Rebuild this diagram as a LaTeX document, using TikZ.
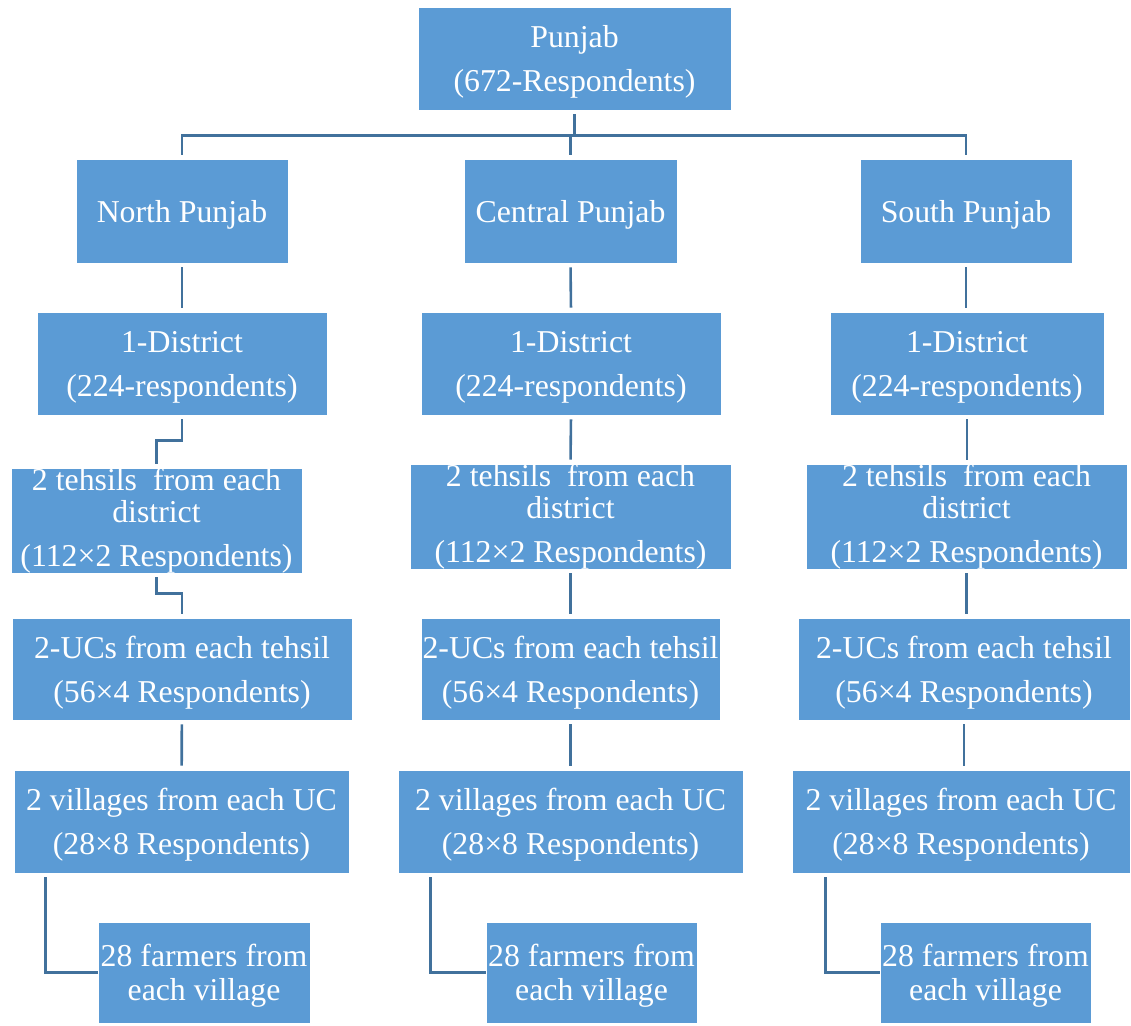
\documentclass[tikz,border=0pt]{standalone}
\usepackage{fontspec}
\setmainfont{Liberation Serif}
\usetikzlibrary{calc}

\definecolor{boxblue}{HTML}{5B9BD5}
\definecolor{linkblue}{HTML}{41719C}

\newcommand{\topstrut}{\rule{0pt}{29pt}}

\tikzset{
    box/.style={fill=boxblue, draw=white, line width=0.6pt, text=white,
        inner sep=0pt, align=center, font=\fontsize{31.8}{44}\selectfont},
    link/.style={draw=linkblue, line width=2.6pt, shorten <=4pt, shorten >=4pt}
}

\begin{document}
\begin{tikzpicture}[x=1pt, y=-1pt]

        \useasboundingbox (0,0) rectangle (1131,1025);

        % Top
        \node[box, minimum width=313pt, minimum height=103pt] (punjab) at (574.5,58.5) {\topstrut Punjab\\(672-Respondents)};

        % Regions
        \node[box, minimum width=212pt, minimum height=104pt] (north) at (182,211) {\topstrut North Punjab};
        \node[box, minimum width=213pt, minimum height=104pt] (central) at (570.5,211) {\topstrut Central Punjab};
        \node[box, minimum width=212pt, minimum height=104pt] (south) at (966,211) {\topstrut South Punjab};

        % Districts
        \node[box, minimum width=290pt, minimum height=103pt] (nd) at (182,363.5) {\topstrut 1-District\\(224-respondents)};
        \node[box, minimum width=300pt, minimum height=103pt] (cd) at (571,363.5) {\topstrut 1-District\\(224-respondents)};
        \node[box, minimum width=274pt, minimum height=103pt] (sd) at (967,363.5) {\topstrut 1-District\\(224-respondents)};

        % Tehsils
        \node[box, minimum width=291pt, minimum height=104pt] (nt) at (156.5,520.5) {2 tehsils\ \ from each\\[-12pt]district\\(112×2 Respondents)};
        \node[box, minimum width=321pt, minimum height=104pt] (ct) at (570.5,516.5) {2 tehsils\ \ from each\\[-12pt]district\\(112×2 Respondents)};
        \node[box, minimum width=321pt, minimum height=104pt] (st) at (966.5,516.5) {2 tehsils\ \ from each\\[-12pt]district\\(112×2 Respondents)};

        % Union councils
        \node[box, minimum width=340pt, minimum height=102pt] (nu) at (182,669) {\topstrut 2-UCs from each tehsil\\(56×4 Respondents)};
        \node[box, minimum width=299pt, minimum height=102pt] (cu) at (570.5,669) {\topstrut 2-UCs from each tehsil\\(56×4 Respondents)};
        \node[box, minimum width=332pt, minimum height=102pt] (su) at (964,669) {\topstrut 2-UCs from each tehsil\\(56×4 Respondents)};

        % Villages
        \node[box, minimum width=335pt, minimum height=103pt] (nv) at (181.5,821.5) {\topstrut 2 villages\ from each UC\\(28×8 Respondents)};
        \node[box, minimum width=345pt, minimum height=103pt] (cv) at (570.5,821.5) {\topstrut 2 villages\ from each UC\\(28×8 Respondents)};
        \node[box, minimum width=338pt, minimum height=103pt] (sv) at (961,821.5) {\topstrut 2 villages\ from each UC\\(28×8 Respondents)};

        % Farmers
        \node[box, minimum width=212pt, minimum height=101pt] (nf) at (204,972.5) {\topstrut 28 farmers from\\[-10pt]each village};
        \node[box, minimum width=211pt, minimum height=101pt] (cf) at (591.5,972.5) {\topstrut 28 farmers from\\[-10pt]each village};
        \node[box, minimum width=211pt, minimum height=101pt] (sf) at (985.5,972.5) {\topstrut 28 farmers from\\[-10pt]each village};

        % Top connectors
        \coordinate (bus) at ($(punjab.south)+(0,25)$);
        \draw[link, shorten >=0pt] (punjab.south) -- (bus);
        \draw[link] (north.north) |- (bus) -| (south.north);
        \draw[link, shorten <=0pt] (central.north |- bus) -- (central.north);

        % North column
        \draw[link] (north) -- (nd);
        \draw[link] (nd.south) -- ++(0,25) -| (nt.north);
        \draw[link] (nt.south) -- ++(0,20) -| (nu.north);
        \draw[link] (nu) -- (nv);
        \draw[link, shorten >=0pt] ([xshift=32pt]nv.south west) |- (nf.west);

        % Central column
        \foreach \a/\b in {central/cd, cd/ct, ct/cu, cu/cv} {
            \draw[link] (\a.south) -- (\b.north);
        }
        \draw[link, shorten >=0pt] ([xshift=33pt]cv.south west) |- (cf.west);

        % South column
        \foreach \a/\b in {south/sd, sd/st, st/su, su/sv} {
            \draw[link] (\a.south) -- (\a.south |- \b.north);
        }
        \draw[link, shorten >=0pt] ([xshift=34pt]sv.south west) |- (sf.west);

    \end{tikzpicture}
\end{document}
